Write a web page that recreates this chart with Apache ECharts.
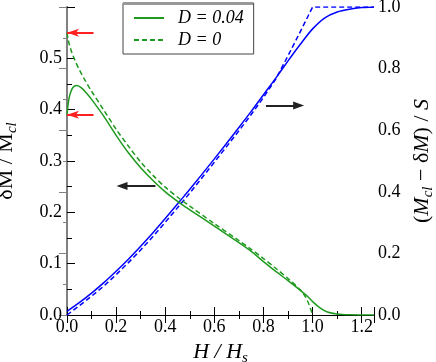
<!DOCTYPE html>
<html>
<head>
<meta charset="utf-8">
<script src="https://cdn.jsdelivr.net/npm/echarts@6/dist/echarts.min.js"></script>
<style>html,body{margin:0;padding:0;background:#fff}#c{width:436px;height:362px}</style>
</head>
<body>
<div id="c"></div>
<script>
// D = 0.04 (left axis, dM/Mcl)
var gSolidX = [0, 0.005, 0.01, 0.02, 0.03, 0.04, 0.06, 0.08, 0.1, 0.15, 0.2, 0.25, 0.3, 0.35, 0.4, 0.46, 0.5, 0.6, 0.7, 0.75, 0.8, 0.85, 0.9, 0.95, 0.98, 1.0, 1.03, 1.06, 1.1, 1.15, 1.25];
var gSolidY = [0.39, 0.412, 0.426, 0.440, 0.446, 0.447, 0.442, 0.432, 0.420, 0.387, 0.350, 0.316, 0.287, 0.262, 0.240, 0.218, 0.205, 0.173, 0.141, 0.124, 0.104, 0.085, 0.067, 0.048, 0.036, 0.026, 0.014, 0.006, 0.002, 0.0005, 0];
// D = 0 (left axis)
var gDashX = [0, 0.005, 0.01, 0.02, 0.035, 0.05, 0.075, 0.1, 0.15, 0.2, 0.25, 0.3, 0.35, 0.4, 0.46, 0.5, 0.6, 0.7, 0.75, 0.8, 0.85, 0.9, 0.95, 0.97, 0.985, 1.0];
var gDashY = [0.55, 0.536, 0.526, 0.511, 0.493, 0.478, 0.456, 0.436, 0.399, 0.362, 0.329, 0.298, 0.272, 0.249, 0.226, 0.212, 0.178, 0.145, 0.128, 0.110, 0.091, 0.071, 0.049, 0.036, 0.021, 0];
// D = 0.04 (right axis, (Mcl - dM)/S)
var bSolidX = [0, 0.05, 0.1, 0.15, 0.2, 0.25, 0.3, 0.35, 0.4, 0.46, 0.5, 0.6, 0.7, 0.75, 0.8, 0.85, 0.9, 0.95, 1.0, 1.05, 1.1, 1.15, 1.2, 1.25];
var bSolidY = [0.012, 0.040, 0.071, 0.105, 0.142, 0.181, 0.223, 0.267, 0.313, 0.370, 0.408, 0.507, 0.609, 0.661, 0.715, 0.769, 0.825, 0.879, 0.929, 0.965, 0.984, 0.993, 0.998, 1.0];
// D = 0 (right axis)
var bDashX = [0, 0.05, 0.1, 0.15, 0.2, 0.25, 0.3, 0.35, 0.4, 0.46, 0.5, 0.6, 0.7, 0.75, 0.8, 0.85, 0.9, 0.95, 1.0, 1.25];
var bDashY = [0, 0.030, 0.061, 0.094, 0.131, 0.170, 0.211, 0.255, 0.301, 0.358, 0.396, 0.496, 0.598, 0.651, 0.706, 0.766, 0.842, 0.920, 1.0, 1.0];

var xTicks = [0, 0.2, 0.4, 0.6, 0.8, 1.0, 1.2];
var leftTicks = [0, 0.1, 0.2, 0.3, 0.4, 0.5];
var rightTicks = [0, 0.2, 0.4, 0.6, 0.8, 1.0];
var legendNames = ['D = 0.04', 'D = 0'];

function pairs(xs, ys) { return xs.map(function (x, i) { return [x, ys[i]]; }); }

var FONT = '"Liberation Serif", "Times New Roman", serif';
var GREEN = '#1f9a1f';
var BLUE = '#0000ff';
var rich = {
  a: { fontFamily: FONT, fontSize: 22, color: '#000', lineHeight: 24, padding: [0, 0, 3, 0] },
  i: { fontFamily: FONT, fontSize: 22, fontStyle: 'italic', color: '#000', lineHeight: 24, padding: [0, 0, 3, 0] },
  s: { fontFamily: FONT, fontSize: 15, fontStyle: 'italic', color: '#000', lineHeight: 15, verticalAlign: 'bottom' }
};
var labelStyle = { fontFamily: FONT, fontSize: 18, color: '#000' };
function fmt1(v) { return v.toFixed(1); }

var chart = echarts.init(document.getElementById('c'), null, { renderer: 'canvas' });
chart.setOption({
  animation: false,
  backgroundColor: '#fff',
  grid: { left: 67, right: 62, top: 7, bottom: 47, containLabel: false, outerBoundsMode: 'none' },
  legend: {
    data: legendNames,
    orient: 'vertical',
    left: 123, top: 3,
    padding: [5, 10, 4, 10],
    itemWidth: 30, itemHeight: 14, itemGap: 2,
    backgroundColor: '#fff',
    borderColor: '#444', borderWidth: 1,
    itemStyle: { color: 'rgba(0,0,0,0)', borderColor: 'rgba(0,0,0,0)', borderWidth: 0 },
    textStyle: { fontFamily: FONT, fontSize: 18, fontStyle: 'italic', color: '#000', lineHeight: 20, padding: [0, 0, 0, 9] },
    selectedMode: false
  },
  graphic: [{
    type: 'line', z: 100,
    shape: { x1: 123, y1: 3.5, x2: 253, y2: 3.5 },
    style: { stroke: '#999', lineWidth: 3 }
  }],
  xAxis: [{
    type: 'value', position: 'bottom', min: 0, max: 1.25, interval: 0.2,
    name: '{i|H / H}{s|s}', nameLocation: 'middle', nameGap: 22,
    nameTextStyle: { rich: rich },
    axisLine: { lineStyle: { color: '#000', width: 1 } },
    axisTick: { inside: true, length: 8, lineStyle: { color: '#000' } },
    minorTick: { show: true, splitNumber: 2, length: 4, lineStyle: { color: '#000' } },
    splitLine: { show: false },
    axisLabel: Object.assign({ margin: 3, showMaxLabel: false, formatter: fmt1 }, labelStyle)
  }, {
    type: 'value', position: 'top', min: 0, max: 1.25, interval: 0.2,
    axisLine: { lineStyle: { color: '#000', width: 1 } },
    axisTick: { inside: true, length: 8, lineStyle: { color: '#000' } },
    minorTick: { show: true, splitNumber: 2, length: 4, lineStyle: { color: '#000' } },
    splitLine: { show: false },
    axisLabel: { show: false }
  }],
  yAxis: [{
    type: 'value', position: 'left', min: 0, max: 0.6, interval: 0.1,
    name: '{a|δM / M}{s|cl}', nameLocation: 'middle', nameGap: 47, nameRotate: 90,
    nameTextStyle: { rich: rich },
    axisLine: { show: true, lineStyle: { color: '#000', width: 1 } },
    axisTick: { inside: true, length: 8, lineStyle: { color: '#000' } },
    minorTick: { show: true, splitNumber: 2, length: 5, lineStyle: { color: '#000' } },
    splitLine: { show: false },
    axisLabel: Object.assign({ margin: 5, showMaxLabel: false, formatter: fmt1 }, labelStyle)
  }, {
    type: 'value', position: 'right', min: 0, max: 1.0, interval: 0.2,
    name: '{a|(}{i|M}{s|cl}{a| − δ}{i|M}{a|) / }{i|S}', nameLocation: 'middle', nameGap: 38, nameRotate: 90,
    nameTextStyle: { rich: rich },
    axisLine: { show: true, lineStyle: { color: '#808080', width: 2 } },
    axisTick: { inside: true, length: 8, lineStyle: { color: '#808080' } },
    minorTick: { show: true, splitNumber: 2, length: 4, lineStyle: { color: '#808080' } },
    splitLine: { show: false },
    axisLabel: Object.assign({ margin: 4, formatter: fmt1 }, labelStyle)
  }],
  series: [{
    name: 'D = 0.04', type: 'line', xAxisIndex: 0, yAxisIndex: 0,
    data: pairs(gSolidX, gSolidY), showSymbol: false, symbol: 'none', smooth: 0.3,
    lineStyle: { color: GREEN, width: 1.5 }, itemStyle: { color: GREEN }, z: 3,
    markLine: {
      silent: true, symbol: ['none', 'arrow'], symbolSize: [6, 12], label: { show: false },
      lineStyle: { color: '#ff2020', width: 2, type: 'solid' },
      data: [
        [{ coord: [0.108, 0.55] }, { coord: [0, 0.55] }],
        [{ coord: [0.108, 0.39] }, { coord: [0, 0.39] }]
      ]
    }
  }, {
    name: 'D = 0', type: 'line', xAxisIndex: 0, yAxisIndex: 0,
    data: pairs(gDashX, gDashY), showSymbol: false, symbol: 'none', smooth: 0.3,
    lineStyle: { color: GREEN, width: 1.5, type: [5, 3] }, itemStyle: { color: GREEN }, z: 3,
    markLine: {
      silent: true, symbol: ['none', 'triangle'], symbolSize: [8, 11], label: { show: false },
      lineStyle: { color: '#222', width: 2, type: 'solid' },
      data: [
        [{ coord: [0.36, 0.2515] }, { coord: [0.224, 0.2515] }]
      ]
    }
  }, {
    name: 'blueSolid', type: 'line', xAxisIndex: 0, yAxisIndex: 1,
    data: pairs(bSolidX, bSolidY), showSymbol: false, symbol: 'none', smooth: 0.3,
    lineStyle: { color: BLUE, width: 1.5 }, itemStyle: { color: BLUE }, z: 2,
    markLine: {
      silent: true, symbol: ['none', 'triangle'], symbolSize: [8, 11], label: { show: false },
      lineStyle: { color: '#222', width: 2, type: 'solid' },
      data: [
        [{ coord: [0.81, 0.68] }, { coord: [0.943, 0.68] }]
      ]
    }
  }, {
    name: 'blueDash', type: 'line', xAxisIndex: 0, yAxisIndex: 1,
    data: pairs(bDashX, bDashY), showSymbol: false, symbol: 'none', smooth: false,
    lineStyle: { color: BLUE, width: 1.5, type: [5, 3] }, itemStyle: { color: BLUE }, z: 2
  }]
});
</script>
</body>
</html>
